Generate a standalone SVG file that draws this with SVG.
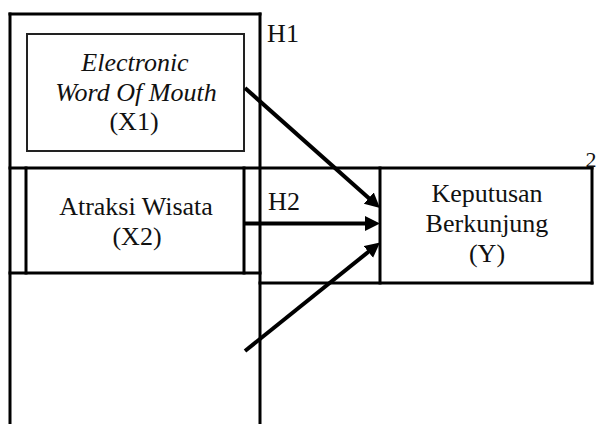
<svg xmlns="http://www.w3.org/2000/svg" width="599" height="424" viewBox="0 0 599 424">
<style>
  .ln{stroke:#000;stroke-width:3;fill:none;stroke-linecap:square}
  .bx{stroke:#222;stroke-width:2;fill:none}
  .ar{stroke:#000;stroke-width:4;fill:none}
</style>
<defs>
  <marker id="ah" markerUnits="userSpaceOnUse" markerWidth="16" markerHeight="16" refX="7" refY="7.5" orient="auto">
    <path d="M0,0 L15,7.5 L0,15 z" fill="#000"/>
  </marker>
</defs>
<rect width="599" height="424" fill="#fff"/>
<g id="frame">
  <line class="ln" x1="10" y1="14" x2="260" y2="14"/>
  <line class="ln" x1="10" y1="14" x2="10" y2="426"/>
  <line class="ln" x1="260" y1="14" x2="260" y2="426"/>
  <line class="ln" x1="10" y1="168" x2="592" y2="168"/>
  <line class="ln" x1="10" y1="273" x2="260" y2="273"/>
</g>
<g font-family="Liberation Serif, Times New Roman, serif" font-size="26" fill="#111" text-anchor="middle">
<g id="x1">
  <rect class="bx" x="27" y="34" width="217" height="117"/>
  <text font-style="italic" x="135" y="71">Electronic</text>
  <text font-style="italic" x="136" y="101">Word Of Mouth</text>
  <text x="134" y="130">(X1)</text>
</g>
<g id="x2">
  <line class="ln" x1="26" y1="168" x2="26" y2="273"/>
  <line class="ln" x1="244" y1="168" x2="244" y2="273"/>
  <text x="136" y="215">Atraksi Wisata</text>
  <text x="137" y="245">(X2)</text>
</g>
<g id="y">
  <line class="ln" x1="380" y1="168" x2="380" y2="283"/>
  <line class="ln" x1="592" y1="168" x2="592" y2="283"/>
  <line class="ln" x1="260" y1="283" x2="592" y2="283"/>
  <text x="487" y="202">Keputusan</text>
  <text x="487" y="232">Berkunjung</text>
  <text x="487" y="262">(Y)</text>
</g>
<g id="labels">
  <text x="283" y="42">H1</text>
  <text x="284" y="210">H2</text>
  <text x="591" y="166.5" font-size="22">2</text>
</g>
</g>
<g id="connectors">
  <line class="ar" x1="245" y1="88" x2="374" y2="202.7" marker-end="url(#ah)"/>
  <line class="ar" x1="244" y1="223.5" x2="372" y2="223.5" marker-end="url(#ah)"/>
  <line class="ar" x1="245" y1="351" x2="373.8" y2="247.5" marker-end="url(#ah)"/>
</g>
</svg>
